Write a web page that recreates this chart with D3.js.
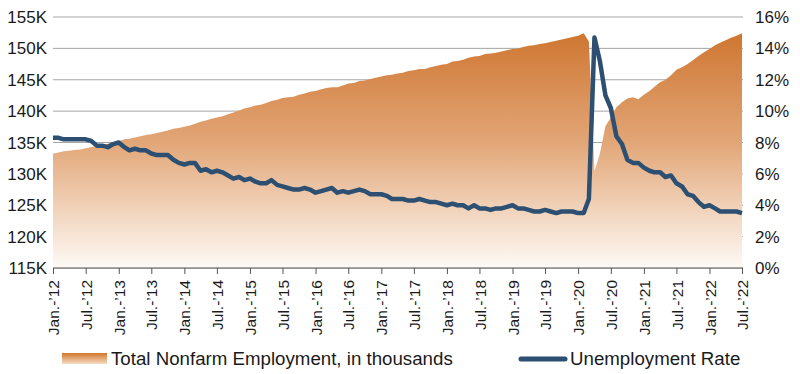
<!DOCTYPE html>
<html>
<head>
<meta charset="utf-8">
<script src="https://cdn.jsdelivr.net/npm/d3@7"></script>
<style>
  html, body { margin: 0; padding: 0; background: #ffffff; }
  svg { display: block; font-family: "Liberation Sans", Arial, Helvetica, sans-serif; }
</style>
</head>
<body>
<svg id="chart" width="800" height="374"></svg>
<script>
// ---- Data (monthly, Jan 2012 – Jul 2022) ----
const startYear = 2012;
const startMonth = 0; // January

// Total nonfarm employment, thousands (values in K)
const employment = [
  133.2,133.4,133.6,133.7,133.8,133.9,134.1,134.3,134.5,134.6,134.8,135.0,
  135.2,135.5,135.6,135.8,136.0,136.2,136.3,136.5,136.7,136.9,137.2,137.3,
  137.5,137.7,138.0,138.3,138.5,138.8,139.0,139.2,139.5,139.8,140.1,140.4,
  140.6,140.9,141.0,141.3,141.6,141.8,142.1,142.2,142.3,142.6,142.8,143.1,
  143.2,143.5,143.7,143.8,143.8,144.1,144.4,144.5,144.8,144.9,145.1,145.3,
  145.5,145.7,145.8,146.0,146.1,146.4,146.5,146.7,146.7,147.0,147.2,147.4,
  147.5,147.9,148.0,148.2,148.5,148.7,148.8,149.1,149.2,149.3,149.5,149.7,
  149.9,150.0,150.2,150.4,150.5,150.7,150.8,151.0,151.2,151.4,151.6,151.8,
  152.0,152.4,151.1,130.4,133.2,137.6,139.0,140.6,141.4,142.0,142.2,141.9,
  142.6,143.2,143.9,144.6,145.0,145.7,146.6,147.0,147.5,148.1,148.8,149.4,
  149.9,150.5,150.9,151.3,151.7,152.0,152.4
];

// Unemployment rate, %
const unemployment = [
  8.3,8.3,8.2,8.2,8.2,8.2,8.2,8.1,7.8,7.8,7.7,7.9,
  8.0,7.7,7.5,7.6,7.5,7.5,7.3,7.2,7.2,7.2,6.9,6.7,
  6.6,6.7,6.7,6.2,6.3,6.1,6.2,6.1,5.9,5.7,5.8,5.6,
  5.7,5.5,5.4,5.4,5.6,5.3,5.2,5.1,5.0,5.0,5.1,5.0,
  4.8,4.9,5.0,5.1,4.8,4.9,4.8,4.9,5.0,4.9,4.7,4.7,
  4.7,4.6,4.4,4.4,4.4,4.3,4.3,4.4,4.3,4.2,4.2,4.1,
  4.0,4.1,4.0,4.0,3.8,4.0,3.8,3.8,3.7,3.8,3.8,3.9,
  4.0,3.8,3.8,3.7,3.6,3.6,3.7,3.6,3.5,3.6,3.6,3.6,
  3.5,3.5,4.4,14.7,13.2,11.0,10.2,8.4,7.9,6.9,6.7,6.7,
  6.4,6.2,6.1,6.1,5.8,5.9,5.4,5.2,4.7,4.6,4.2,3.9,
  4.0,3.8,3.6,3.6,3.6,3.6,3.5
];

const leftTicks = [115,120,125,130,135,140,145,150,155];
const rightTicks = [0,2,4,6,8,10,12,14,16];
const monthAbbr = ["Jan.","Jul."];
const seriesNames = ["Total Nonfarm Employment, in thousands", "Unemployment Rate"];

// ---- Build ----
const dates = employment.map((_, i) => new Date(startYear, startMonth + i, 1));
const rows = dates.map((d, i) => ({ date: d, emp: employment[i], ur: unemployment[i] }));

const svg = d3.select("#chart");
const m = { left: 53, right: 742, top: 17, bottom: 268 };

const x = d3.scaleTime()
  .domain([dates[0], dates[dates.length - 1]])
  .range([m.left, m.right]);
const yL = d3.scaleLinear().domain([115, 155]).range([m.bottom, m.top]);
const yR = d3.scaleLinear().domain([0, 16]).range([m.bottom, m.top]);

const defs = svg.append("defs");
const grad = defs.append("linearGradient")
  .attr("id", "areaGrad")
  .attr("gradientUnits", "userSpaceOnUse")
  .attr("x1", 0).attr("x2", 0)
  .attr("y1", m.top).attr("y2", m.bottom);
grad.append("stop").attr("offset", "0%").attr("stop-color", "#cc6f27");
grad.append("stop").attr("offset", "50%").attr("stop-color", "#e2a677");
grad.append("stop").attr("offset", "100%").attr("stop-color", "#fefaf6");

const lgGrad = defs.append("linearGradient")
  .attr("id", "legGrad").attr("x1", 0).attr("x2", 0).attr("y1", 0).attr("y2", 1);
lgGrad.append("stop").attr("offset", "0%").attr("stop-color", "#d0762c");
lgGrad.append("stop").attr("offset", "100%").attr("stop-color", "#f6dcc4");

// Gridlines
svg.append("g")
  .selectAll("line")
  .data(leftTicks)
  .join("line")
  .attr("x1", m.left).attr("x2", m.right + 1)
  .attr("y1", d => yL(d)).attr("y2", d => yL(d))
  .attr("stroke", "#a6a6a6").attr("stroke-width", 1);

// Area
const area = d3.area()
  .x(d => x(d.date))
  .y0(m.bottom)
  .y1(d => yL(d.emp));
svg.append("path")
  .datum(rows)
  .attr("d", area)
  .attr("fill", "url(#areaGrad)");

// Line
const line = d3.line()
  .x(d => x(d.date))
  .y(d => yR(d.ur));
svg.append("path")
  .datum(rows)
  .attr("d", line)
  .attr("fill", "none")
  .attr("stroke", "#2d4f71")
  .attr("stroke-width", 4.5)
  .attr("stroke-linejoin", "round");

// Left axis labels
svg.append("g")
  .selectAll("text")
  .data(leftTicks)
  .join("text")
  .attr("x", 47)
  .attr("y", d => yL(d))
  .attr("dy", "0.36em")
  .attr("text-anchor", "end")
  .attr("font-size", 17)
  .attr("fill", "#1a1a1a")
  .text(d => d + "K");

// Right axis labels
svg.append("g")
  .selectAll("text")
  .data(rightTicks)
  .join("text")
  .attr("x", 755)
  .attr("y", d => yR(d))
  .attr("dy", "0.36em")
  .attr("text-anchor", "start")
  .attr("font-size", 17)
  .attr("fill", "#1a1a1a")
  .text(d => d + "%");

// Bottom axis
const tickDates = d3.timeMonth.every(6).range(dates[0], d3.timeMonth.offset(dates[dates.length - 1], 1));
const xAxis = d3.axisBottom(x)
  .tickValues(tickDates)
  .tickSize(6)
  .tickFormat(d => (d.getMonth() === 0 ? monthAbbr[0] : monthAbbr[1]) + "-\u2019" + String(d.getFullYear()).slice(2));
const gx = svg.append("g")
  .attr("transform", `translate(0,${m.bottom})`)
  .call(xAxis);
gx.select(".domain").attr("stroke", "#555").attr("d", `M${m.left},0H${m.right + 1}`);
gx.selectAll(".tick line").attr("stroke", "#555");
gx.selectAll(".tick text")
  .attr("font-size", 15.5)
  .attr("font-family", "'Liberation Sans', Arial, sans-serif")
  .attr("fill", "#1a1a1a")
  .attr("transform", "rotate(-90)")
  .attr("text-anchor", "end")
  .attr("x", -12)
  .attr("y", 0)
  .attr("dy", "0.36em");

// Legend
const leg = svg.append("g");
leg.append("rect")
  .attr("x", 62).attr("y", 353).attr("width", 45).attr("height", 11)
  .attr("fill", "url(#legGrad)");
leg.append("text")
  .attr("x", 111).attr("y", 365)
  .attr("font-size", 18.7).attr("fill", "#1a1a1a")
  .text(seriesNames[0]);
leg.append("line")
  .attr("x1", 521).attr("x2", 565).attr("y1", 359).attr("y2", 359)
  .attr("stroke", "#2d4f71").attr("stroke-width", 5).attr("stroke-linecap", "round");
leg.append("text")
  .attr("x", 570).attr("y", 365)
  .attr("font-size", 18.7).attr("fill", "#1a1a1a")
  .text(seriesNames[1]);
</script>
</body>
</html>
